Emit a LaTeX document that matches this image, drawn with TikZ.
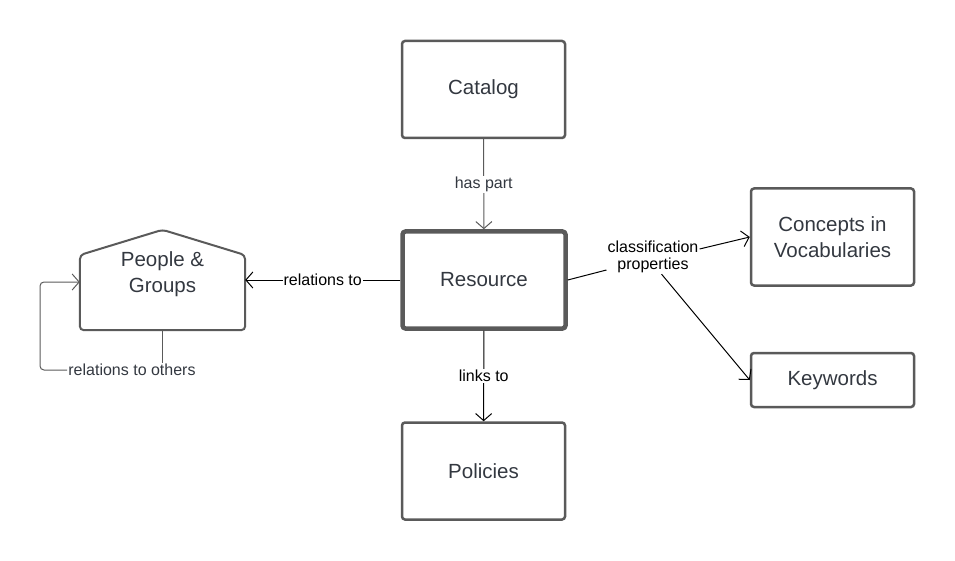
\documentclass[tikz,border=0pt]{standalone}
\usepackage{fontspec}
\setmainfont{Liberation Sans}
\usetikzlibrary{arrows.meta}
\definecolor{boxline}{HTML}{5A5A5A}
\definecolor{boxtext}{HTML}{333840}
\tikzset{
  box/.style={draw=boxline,line width=2.5pt,rounded corners=3pt,minimum width=163pt,
    minimum height=97pt,align=center,text=boxtext,font=\fontsize{20.5}{26}\selectfont},
  lbl/.style={fill=white,inner sep=1pt,font=\fontsize{16}{18}\selectfont},
  link/.style={line width=1pt,-{Straight Barb[length=7pt,width=16pt]}},
}
\begin{document}
\begin{tikzpicture}[x=1pt,y=-1pt]
\useasboundingbox (0,0) rectangle (955,561);
% boxes
\node[box] (catalog) at (483.5,89.5) {Catalog};
\node[box,line width=4.5pt] (resource) at (484,280) {Resource};
\node[box] (policies) at (483.5,471) {Policies};
\node[box] (concepts) at (832.5,237) {Concepts in\\Vocabularies};
\node[box,minimum height=54pt] (keywords) at (832.5,380) {Keywords};
\node[minimum width=165pt,minimum height=100pt,align=center,text=boxtext,
  font=\fontsize{20.5}{26}\selectfont,text depth=16pt] (people) at (162.5,280) {People \&\\Groups};
\draw[boxline,line width=2pt,rounded corners=4pt]
  (people.south west) -- (80,255) -- (people.north) -- (245,255) -- (people.south east) -- cycle;
% connectors
\draw[link,boxline] (catalog) -- node[lbl,text=boxtext] {has part} (resource);
\draw[link] (resource) -- node[lbl] {relations to} (people.east |- resource);
\draw[link] (resource) -- node[lbl] {links to} (policies);
\node[lbl,align=center,font=\fontsize{16}{17}\selectfont] (classif) at (653,257) {classification\\properties};
\draw[line width=1pt] (resource.east) -- (classif.west |- 0,270);
\draw[link] (classif.north east |- 0,249) -- (concepts.west);
\draw[link] (classif.south east) ++(-38,0) coordinate (cs) (cs) -- (keywords.west);
% self loop
\node[lbl,text=boxtext] (others) at (132,370) {relations to others};
\draw[boxline,line width=1pt] (people.south) -- (people.south |- others.north);
\draw[boxline,link,rounded corners=4pt] (others.west) -- (40,370) -- (40,282) -- (people.west |- 0,282);
\end{tikzpicture}
\end{document}
